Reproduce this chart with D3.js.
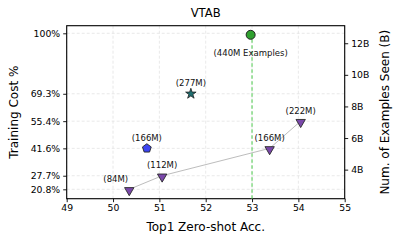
<!DOCTYPE html>
<html><head><meta charset="utf-8">
<script src="https://cdn.jsdelivr.net/npm/d3@7"></script>
<style>body{margin:0;background:#fff}svg{display:block;font-family:"DejaVu Sans",sans-serif}</style>
</head><body><svg id="c" width="399" height="243"></svg>
<script>
const title = "VTAB";
const xTicks = [49,50,51,52,53,54,55];
const yTicks = [20.8,27.7,41.6,55.4,69.3,100];
const yRightTicks = [4,6,8,10,12];
// triangles series (connected)
const triLabels = ["(84M)","(112M)","(166M)","(222M)"];
const triX = [50.35,51.06,53.38,54.05];
const triY = [20.8,27.7,41.6,55.4];
// single markers
const pentLabel = "(166M)", pentX = 50.73, pentY = 41.6;
const starLabel = "(277M)", starX = 51.68, starY = 69.3;
const circLabel = "(440M Examples)", circX = 52.97, circY = 100;
const dashX = 53;

const svg = d3.select("#c");
const L=66.7, R=344.7, T=25.7, B=198.7;
const x = d3.scaleLinear().domain([49,55]).range([L,R]);
const y = d3.scaleLinear().domain([16.04,103.86]).range([B,T]);
const y2 = d3.scaleLinear().domain([2.16,13.11]).range([B,T]);

// grid
const g = svg.append("g");
g.selectAll(".gx").data(xTicks).join("line").attr("x1",d=>x(d)).attr("x2",d=>x(d)).attr("y1",T).attr("y2",B)
 .attr("stroke","#e3e3e3").attr("stroke-width",0.8).attr("stroke-dasharray","3,2");
g.selectAll(".gy").data(yTicks).join("line").attr("y1",d=>y(d)).attr("y2",d=>y(d)).attr("x1",L).attr("x2",R)
 .attr("stroke","#e3e3e3").attr("stroke-width",0.8).attr("stroke-dasharray","3,2");

// axes
const fs = "9.3px";
const ax = svg.append("g").attr("transform",`translate(0,${B})`).call(d3.axisBottom(x).tickValues(xTicks).tickSize(3.5).tickPadding(2.5).tickFormat(d3.format("d")));
const ay = svg.append("g").attr("transform",`translate(${L},0)`).call(d3.axisLeft(y).tickValues(yTicks).tickSize(3.5).tickPadding(3).tickFormat(d=> d===100?"100%":d3.format(".1f")(d)+"%"));
const ay2 = svg.append("g").attr("transform",`translate(${R},0)`).call(d3.axisRight(y2).tickValues(yRightTicks).tickSize(3.5).tickPadding(3).tickFormat(d=>d+"B"));
[ax,ay,ay2].forEach(a=>{a.select(".domain").remove();a.selectAll("line").attr("stroke","#000").attr("stroke-width",0.9);
 a.selectAll("text").attr("font-size",fs).attr("fill","#000").attr("font-family","DejaVu Sans");});
svg.append("rect").attr("x",L).attr("y",T).attr("width",R-L).attr("height",B-T).attr("fill","none").attr("stroke","#000").attr("stroke-width",1.1);

// green dashed line
svg.append("line").attr("x1",x(dashX)).attr("x2",x(dashX)).attr("y1",y(circY)).attr("y2",B)
 .attr("stroke","#5ccf5c").attr("stroke-width",1.1).attr("stroke-dasharray","3.5,2.5");

// connecting line
svg.append("path").datum(triX.map((v,i)=>[v,triY[i]]))
 .attr("d",d3.line().x(d=>x(d[0])).y(d=>y(d[1]))).attr("fill","none").attr("stroke","#bdbdbd").attr("stroke-width",1);

// markers
const tri = d3.symbol().type(d3.symbolTriangle).size(38);
svg.selectAll(".tri").data(triX).join("path")
 .attr("d",tri()).attr("transform",(d,i)=>`translate(${x(d)},${y(triY[i])+1}) rotate(180)`)
 .attr("fill","#7a48aa").attr("stroke","#2a2a2a").attr("stroke-width",0.9);

function pentagon(r){const pts=[];for(let k=0;k<5;k++){const a=-Math.PI/2+k*2*Math.PI/5;pts.push([r*Math.cos(a),r*Math.sin(a)]);}return "M"+pts.join("L")+"Z";}
svg.append("path").attr("d",pentagon(4.6)).attr("transform",`translate(${x(pentX)},${y(pentY)})`)
 .attr("fill","#3d45f2").attr("stroke","#222").attr("stroke-width",0.9);
svg.append("path").attr("d",d3.symbol().type(d3.symbolStar).size(34)()).attr("transform",`translate(${x(starX)},${y(starY)})`)
 .attr("fill","#1f6e70").attr("stroke","#222").attr("stroke-width",0.8);
svg.append("circle").attr("cx",x(circX)).attr("cy",y(circY)+1.5).attr("r",4.5)
 .attr("fill","#2fa02f").attr("stroke","#222").attr("stroke-width",1);

// labels
const lfs = "8.5px";
function lab(t,px,py,dx,dy){svg.append("text").attr("x",px+dx).attr("y",py+dy).attr("text-anchor","middle").attr("dominant-baseline","central")
 .attr("font-size",lfs).attr("fill","#111").text(t);}
triX.forEach((v,i)=>lab(triLabels[i],x(v),y(triY[i]),i===0?-13.5:0,-10.5));
lab(pentLabel,x(pentX),y(pentY),0,-10.6);
lab(starLabel,x(starX),y(starY),0,-10.7);
lab(circLabel,x(circX),y(circY),0,20);

// titles
svg.append("text").attr("x",(L+R)/2).attr("y",13).attr("text-anchor","middle").attr("dominant-baseline","central").attr("font-size","11.6px").text(title);
svg.append("text").attr("x",(L+R)/2).attr("y",227).attr("text-anchor","middle").attr("dominant-baseline","central").attr("font-size","12px").text("Top1 Zero-shot Acc.");
svg.append("text").attr("transform",`translate(13.5,${(T+B)/2}) rotate(-90)`).attr("text-anchor","middle").attr("dominant-baseline","central").attr("font-size","12px").text("Training Cost %");
svg.append("text").attr("transform",`translate(385,${(T+B)/2}) rotate(-90)`).attr("text-anchor","middle").attr("dominant-baseline","central").attr("font-size","12px").text("Num. of Examples Seen (B)");
</script></body></html>
